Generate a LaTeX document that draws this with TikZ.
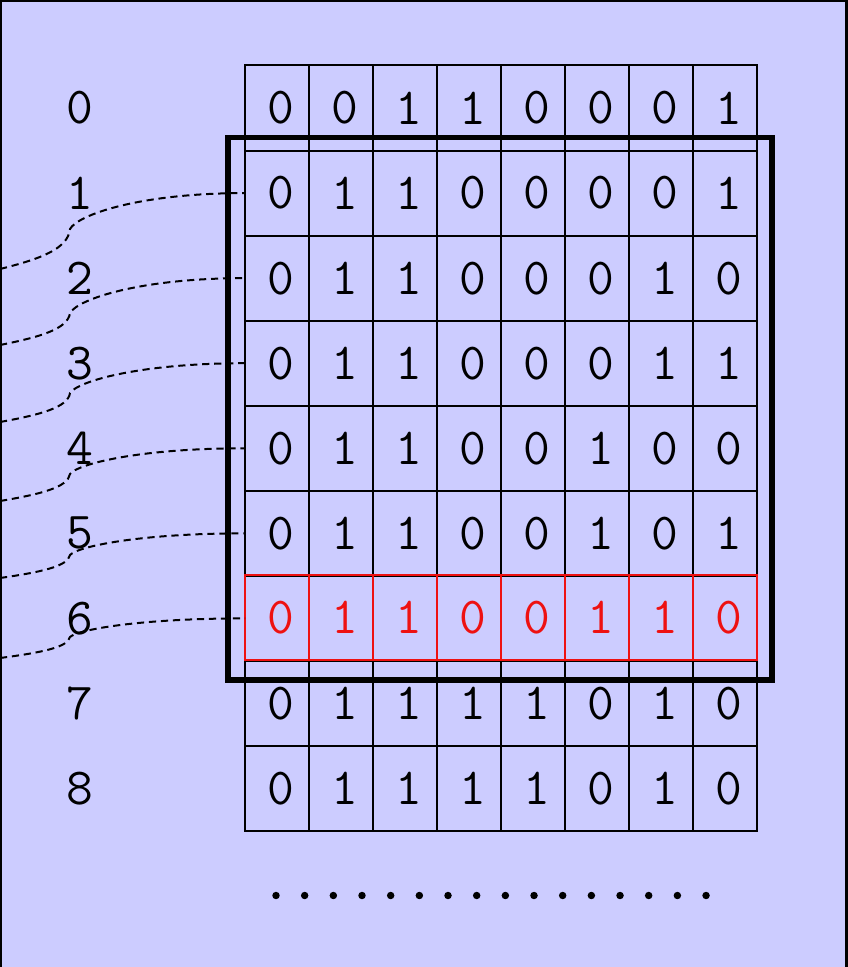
\documentclass[tikz,border=0pt]{standalone}
\usepackage{fontspec}
\definecolor{bgcol}{HTML}{CCCCFF}
\definecolor{hired}{HTML}{EE1111}
\begin{document}
\begin{tikzpicture}[x=0.75pt,y=-0.75pt,
  cellbox/.style={draw=black,line width=1.5pt,minimum width=48pt,minimum height=63.8pt,inner sep=0pt,outer sep=0pt},
  redbox/.style={draw=hired,line width=1.5pt,minimum width=48pt,minimum height=63.4pt,inner sep=0pt,outer sep=0pt},
  digit/.style={inner sep=0pt,font=\ttfamily\fontsize{39}{39}\selectfont},
  dashline/.style={line width=1.5pt,dash pattern=on 5.4pt off 3.6pt},
  frame/.style={draw=black,line width=3.9pt,inner sep=0pt,minimum width=408pt,minimum height=406.9pt},
  dotn/.style={circle,fill=black,inner sep=0pt,minimum size=5.6pt}]
\useasboundingbox (0,0) rectangle (847,967);
\fill[bgcol] (0,0) rectangle (847,967);
\draw[line width=2.5pt] (0,967) -- (0,0) -- (847,0) -- (847,967);
% grid
\foreach \r/\bits in {0/{0,0,1,1,0,0,0,1},1/{0,1,1,0,0,0,0,1},2/{0,1,1,0,0,0,1,0},3/{0,1,1,0,0,0,1,1},4/{0,1,1,0,0,1,0,0},5/{0,1,1,0,0,1,0,1},6/{0,1,1,0,0,1,1,0},7/{0,1,1,1,1,0,1,0},8/{0,1,1,1,1,0,1,0}}{
  \pgfmathsetmacro{\yc}{65.5+85.06*(\r+0.5)}
  \node[digit] (l\r) at (80,\yc) {\r};
  \foreach \b [count=\c from 0] in \bits {
    \ifnum\r=6\relax
      \node[cellbox] (b\r\c) at (277+64*\c,\yc) {};
    \else
      \node[cellbox] (b\r\c) at (277+64*\c,\yc) {};
      \node[digit] (d\r\c) at ([xshift=2.6pt]b\r\c.center) {\b};
    \fi
  }
}
% red row
\foreach \b [count=\c from 0] in {0,1,1,0,0,1,1,0}{
  \node[redbox] (r\c) at (277+64*\c,617.25) {};
  \node[digit,text=hired] (d6\c) at ([xshift=2.6pt]r\c.center) {\b};
}
% dashed curves
\foreach \k/\yl/\ym in {1/269/229,2/345/313,3/422/393,4/501/474,5/578/555,6/658/637}{
  \pgfmathsetmacro{\yr}{65.5+85.06*(\k+0.5)}
  \coordinate (s\k) at (0,\yl);
  \draw[dashline] (s\k) .. controls (40,{\yl-0.25*(\yl-\ym)}) and (68,{\ym+0.5*(\yl-\ym)}) .. (70,\ym)
     .. controls (78,{\ym-0.4*(\ym-\yr)}) and (140,\yr) .. (b\k0.west);
}
% thick frame
\node[frame] (win) at (500,408.75) {};
% dots
\foreach \i in {0,...,15}{
  \node[dotn] (dot\i) at (276+28.67*\i,895.5) {};
}
\end{tikzpicture}
\end{document}
